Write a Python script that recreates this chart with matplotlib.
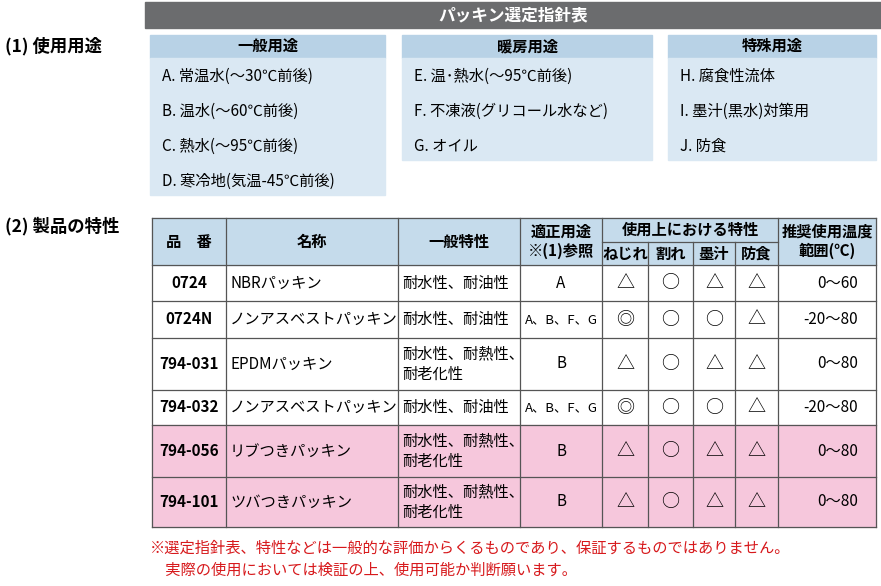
import matplotlib.pyplot as plt
from matplotlib.patches import Rectangle

plt.rcParams["font.family"] = "Noto Sans CJK JP"

title = "パッキン選定指針表"
usage_heads = ["一般用途", "暖房用途", "特殊用途"]
usage_items = [
    ["A. 常温水(～30℃前後)", "B. 温水(～60℃前後)", "C. 熱水(～95℃前後)", "D. 寒冷地(気温-45℃前後)"],
    ["E. 温･熱水(～95℃前後)", "F. 不凍液(グリコール水など)", "G. オイル"],
    ["H. 腐食性流体", "I. 墨汁(黒水)対策用", "J. 防食"],
]
codes = ["0724", "0724N", "794-031", "794-032", "794-056", "794-101"]
names = ["NBRパッキン", "ノンアスベストパッキン", "EPDMパッキン", "ノンアスベストパッキン", "リブつきパッキン", "ツバつきパッキン"]
general = ["耐水性、耐油性", "耐水性、耐油性", "耐水性、耐熱性、\n耐老化性", "耐水性、耐油性", "耐水性、耐熱性、\n耐老化性", "耐水性、耐熱性、\n耐老化性"]
uses = ["A", "A、B、F、G", "B", "A、B、F、G", "B", "B"]
neji = ["△", "◎", "△", "◎", "△", "△"]
ware = ["○", "○", "○", "○", "○", "○"]
boku = ["△", "○", "△", "○", "△", "△"]
bosh = ["△", "△", "△", "△", "△", "△"]
temps = ["0～60", "-20～80", "0～80", "-20～80", "0～80", "0～80"]
pink_rows = [4, 5]
notes = ["※選定指針表、特性などは一般的な評価からくるものであり、保証するものではありません。",
         "　実際の使用においては検証の上、使用可能か判断願います。"]

fig = plt.figure(figsize=(8.81, 5.86), dpi=100)
ax = fig.add_axes([0, 0, 1, 1])
ax.set_xlim(0, 881)
ax.set_ylim(586, 0)
ax.axis("off")

fs = 11
ax.add_patch(Rectangle((145, 2), 736, 26, color="#6b6c6e"))
ax.text(513, 15, title, color="white", fontsize=12, ha="center", va="center", weight="bold")

ax.text(5, 46, "(1) 使用用途", fontsize=12.5, va="center", weight="bold")
boxes = [(150, 385, 195), (402, 652, 160), (668, 876, 160)]
for (x0, x1, yb), head, items in zip(boxes, usage_heads, usage_items):
    ax.add_patch(Rectangle((x0, 35), x1 - x0, 23, color="#b8d2e6"))
    ax.add_patch(Rectangle((x0, 58), x1 - x0, yb - 58, color="#dae8f3"))
    ax.text((x0 + x1) / 2, 46, head, fontsize=fs, ha="center", va="center", weight="bold")
    for i, it in enumerate(items):
        ax.text(x0 + 12, 76 + 35 * i, it, fontsize=fs, va="center")

ax.text(5, 226, "(2) 製品の特性", fontsize=12.5, va="center", weight="bold")
xs = [152, 226, 398, 520, 602, 648, 693, 735, 778, 876]
ys = [218, 265, 301, 338, 390, 425, 477, 527]
ax.add_patch(Rectangle((xs[0], ys[0]), xs[-1] - xs[0], ys[1] - ys[0], color="#c5dbeb"))
for r in pink_rows:
    ax.add_patch(Rectangle((xs[0], ys[r + 1]), xs[-1] - xs[0], ys[r + 2] - ys[r + 1], color="#f6c7dc"))
lc = "#555555"
for y in ys:
    ax.plot([xs[0], xs[-1]], [y, y], color=lc, lw=0.9)
ax.plot([xs[4], xs[8]], [242, 242], color=lc, lw=0.9)
for i, x in enumerate(xs):
    y0 = 242 if i in (5, 6, 7) else ys[0]
    ax.plot([x, x], [y0, ys[-1]], color=lc, lw=0.9)

hy = (ys[0] + ys[1]) / 2
ax.text(189, hy, "品　番", fontsize=fs, ha="center", va="center", weight="bold")
ax.text(312, hy, "名称", fontsize=fs, ha="center", va="center", weight="bold")
ax.text(459, hy, "一般特性", fontsize=fs, ha="center", va="center", weight="bold")
ax.text(561, hy, "適正用途\n※(1)参照", fontsize=fs, ha="center", va="center", weight="bold", linespacing=1.2)
ax.text(690, 230, "使用上における特性", fontsize=fs, ha="center", va="center", weight="bold")
for x0, x1, s in zip(xs[4:8], xs[5:9], ["ねじれ", "割れ", "墨汁", "防食"]):
    ax.text((x0 + x1) / 2, 254, s, fontsize=fs, ha="center", va="center", weight="bold")
ax.text(827, hy, "推奨使用温度\n範囲(℃)", fontsize=fs, ha="center", va="center", weight="bold", linespacing=1.2)

for r in range(len(codes)):
    cy = (ys[r + 1] + ys[r + 2]) / 2
    ax.text(189, cy, codes[r], fontsize=fs, ha="center", va="center", weight="bold")
    ax.text(230, cy, names[r], fontsize=fs, va="center")
    ax.text(402, cy, general[r], fontsize=fs, va="center", linespacing=1.3)
    ax.text(561, cy, uses[r], fontsize=fs if len(uses[r]) < 3 else 9.5, ha="center", va="center")
    for k, col in enumerate([neji, ware, boku, bosh]):
        ax.text((xs[4 + k] + xs[5 + k]) / 2, cy, col[r], fontsize=13, ha="center", va="center")
    ax.text(858, cy, temps[r], fontsize=fs, ha="right", va="center")

for i, n in enumerate(notes):
    ax.text(150, 548 + 22 * i, n, fontsize=fs, color="#d7191c", va="center")

fig.savefig("out.png", dpi=100)
